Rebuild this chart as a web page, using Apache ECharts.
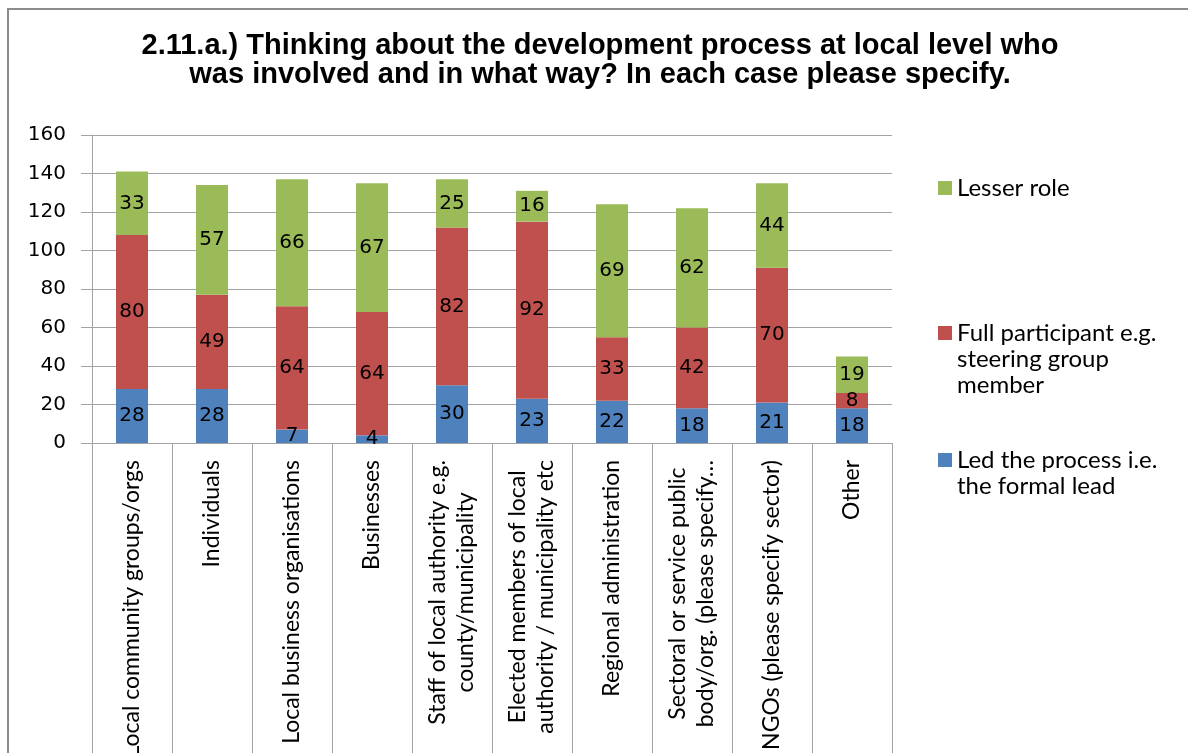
<!DOCTYPE html>
<html>
<head>
<meta charset="utf-8">
<script src="https://cdn.jsdelivr.net/npm/echarts@6/dist/echarts.min.js"></script>
<style>
  html, body { margin: 0; padding: 0; background: #ffffff; }
  #chart { width: 1188px; height: 753px; }
</style>
</head>
<body>
<div id="chart"></div>
<script>
// Who took part in the local development process, by role
const titleText = '2.11.a.) Thinking about the development process at local level who\nwas involved and in what way? In each case please specify.';

const categories = [
  'Local community groups/orgs',
  'Individuals',
  'Local business organisations',
  'Businesses',
  'Staff of local authority e.g.\ncounty/municipality',
  'Elected members of local\nauthority / municipality etc',
  'Regional administration',
  'Sectoral or service public\nbody/org. (please specify\u2026',
  'NGOs (please specify sector)',
  'Other'
];

const ledValues    = [28, 28, 7, 4, 30, 23, 22, 18, 21, 18];
const fullValues   = [80, 49, 64, 64, 82, 92, 33, 42, 70, 8];
const lesserValues = [33, 57, 66, 67, 25, 16, 69, 62, 44, 19];

const ledName    = 'Led the process i.e. the formal lead';
const fullName   = 'Full participant e.g. steering group member';
const lesserName = 'Lesser role';

// legend wording as wrapped in the key
const legendLines = {};
legendLines[lesserName] = ['Lesser role'];
legendLines[fullName]   = ['Full participant e.g.', 'steering group', 'member'];
legendLines[ledName]    = ['Led the process i.e.', 'the formal lead'];

const yMin = 0, yMax = 160, yStep = 20;

const colors = { led: '#4F81BD', full: '#C0504D', lesser: '#9BBB59' };
const gridGray = '#a3a3a3';
const legendLineHeight = 26;
const textFont = 'Lato, Calibri, "Open Sans", sans-serif';
const numberFont = '"DejaVu Sans", Verdana, sans-serif';

// Square key marker sitting on the first text line of a (possibly multi-line) legend entry
function keyIcon(lineCount) {
  const h = lineCount * legendLineHeight;
  const top = (legendLineHeight - 14) / 2;
  return 'path://M0,0L0.01,0M0,' + top + 'L14,' + top + 'L14,' + (top + 14) + 'L0,' + (top + 14) + 'ZM14,' + h + 'L13.99,' + h;
}

function legendFor(name, top) {
  const n = legendLines[name].length;
  return {
    data: [name],
    left: 938,
    top: top,
    orient: 'vertical',
    padding: 0,
    itemWidth: 14,
    itemHeight: n * legendLineHeight,
    icon: keyIcon(n),
    selectedMode: false,
    formatter: function (nm) { return legendLines[nm].join('\n'); },
    textStyle: {
      fontFamily: textFont,
      fontSize: 24,
      lineHeight: legendLineHeight,
      color: '#000'
    }
  };
}

const barLabel = {
  show: true,
  position: 'inside',
  color: '#000',
  fontFamily: numberFont,
  fontSize: 20,
  textBorderWidth: 0
};

const chart = echarts.init(document.getElementById('chart'), null, { renderer: 'canvas' });

chart.setOption({
  backgroundColor: '#ffffff',
  animation: false,
  title: {
    text: titleText,
    left: 600,
    top: 31,
    padding: 0,
    textAlign: 'center',
    textStyle: {
      fontFamily: '"Liberation Sans", Arial, sans-serif',
      fontWeight: 'bold',
      fontSize: 29,
      lineHeight: 29,
      color: '#000'
    }
  },
  graphic: [{
    type: 'rect',
    silent: true,
    shape: { x: 8, y: 9, width: 1300, height: 900 },
    style: { fill: 'none', stroke: '#8c8c8c', lineWidth: 2 },
    z: 100
  }],
  legend: [
    legendFor(lesserName, 175),
    legendFor(fullName, 320),
    legendFor(ledName, 447)
  ],
  grid: {
    left: 92, right: 296, top: 135, bottom: 310,
    containLabel: false,
    outerBoundsMode: 'none'
  },
  xAxis: {
    type: 'category',
    data: categories,
    boundaryGap: true,
    axisLine: { show: true, lineStyle: { color: gridGray, width: 1 } },
    axisTick: { show: true, alignWithLabel: false, length: 330, lineStyle: { color: gridGray, width: 1 } },
    axisLabel: {
      interval: 0,
      rotate: 90,
      margin: 17,
      hideOverlap: false,
      color: '#000',
      fontFamily: textFont,
      fontSize: 23,
      formatter: function (v) {
        return v.split('\n').map(function (s) { return '{c|' + s + '}'; }).join('\n');
      },
      rich: {
        c: { align: 'center', fontFamily: textFont, fontSize: 23, lineHeight: 28, color: '#000' }
      }
    },
    splitLine: { show: false }
  },
  yAxis: {
    type: 'value',
    min: yMin,
    max: yMax,
    interval: yStep,
    axisLine: { show: true, lineStyle: { color: gridGray, width: 1 } },
    axisTick: { show: true, length: 11, lineStyle: { color: gridGray, width: 1 } },
    axisLabel: {
      margin: 26,
      color: '#000',
      fontFamily: numberFont,
      fontSize: 20
    },
    splitLine: { show: true, lineStyle: { color: gridGray, width: 1 } }
  },
  series: [
    {
      name: ledName, type: 'bar', stack: 'roles', data: ledValues,
      barWidth: 32, itemStyle: { color: colors.led }, label: barLabel
    },
    {
      name: fullName, type: 'bar', stack: 'roles', data: fullValues,
      barWidth: 32, itemStyle: { color: colors.full }, label: barLabel
    },
    {
      name: lesserName, type: 'bar', stack: 'roles', data: lesserValues,
      barWidth: 32, itemStyle: { color: colors.lesser }, label: barLabel
    }
  ]
});
</script>
</body>
</html>
